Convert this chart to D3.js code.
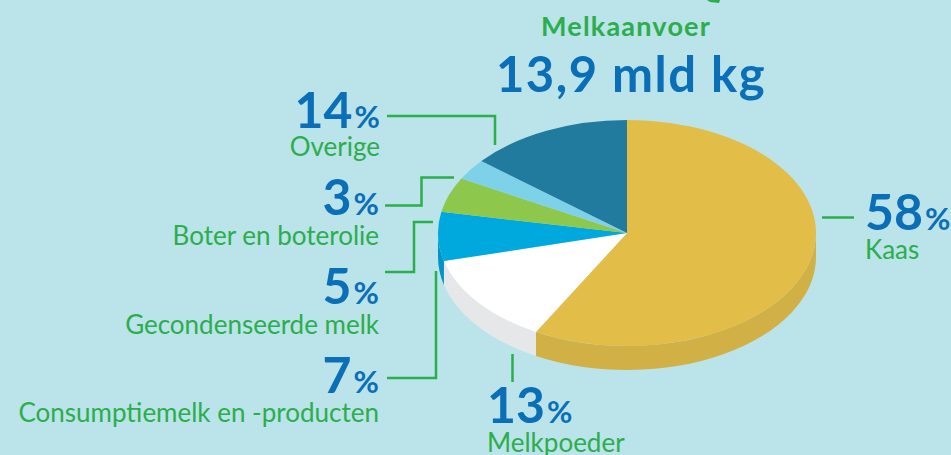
<!DOCTYPE html>
<html>
<head>
<meta charset="utf-8">
<script src="https://cdn.jsdelivr.net/npm/d3@7"></script>
<style>
  body { margin: 0; background: #bae3ea; }
  svg { display: block; }
</style>
</head>
<body>
<svg id="chart" width="951" height="455"></svg>
<script>
// data
const categories = ["Kaas", "Melkpoeder", "Consumptiemelk en -producten", "Gecondenseerde melk", "Boter en boterolie", "Overige"];
const shares = [58, 13, 7, 5, 3, 14];
const topColors = ["#e2be49", "#ffffff", "#00a9dd", "#8dc74b", "#7dd1e9", "#217b9e"];
const sideColors = ["#d1b045", "#e6e7e8", "#0095c6", "#7fb443", "#6dbfd6", "#1b6a8a"];
const title = "Melkaanvoer";
const total = "13,9 mld kg";

const green = "#2bae4b", blue = "#0a6fb7";

// label placement (annotation layout, same order as categories)
const labelLayout = [
  {x: 865, numY: 230, nameY: 259, anchor: "start", lead: [[822, 217.5], [854, 217.5]]},
  {x: 487, numY: 423, nameY: 452, anchor: "start", lead: [[512.5, 354], [512.5, 382]]},
  {x: 379, numY: 393, nameY: 422, anchor: "end", lead: [[387, 378], [436, 378], [436, 271]]},
  {x: 379, numY: 304, nameY: 334, anchor: "end", lead: [[385, 272], [414, 272], [414, 222], [433, 222]]},
  {x: 379, numY: 215, nameY: 245, anchor: "end", lead: [[385, 205.5], [421.5, 205.5], [421.5, 177.5], [454, 177.5]]},
  {x: 380, numY: 128, nameY: 156, anchor: "end", lead: [[387, 116], [495, 116], [495, 145]]}
];

const svg = d3.select("#chart");
const cx = 627, cy = 233, rx = 189, ry = 113, depth = 24;

svg.append("rect").attr("width", 951).attr("height", 455).attr("fill", "#bae3ea");

// little arrow piece at the top edge
svg.append("path").attr("d", "M707,0 L720,0 L719,3 L710,2 Z").attr("fill", green);

// titles
svg.append("text")
  .attr("x", 626).attr("y", 36)
  .attr("text-anchor", "middle")
  .attr("font-family", "Lato, sans-serif").attr("font-weight", 700).attr("font-size", 27)
  .attr("letter-spacing", 1.2)
  .attr("fill", green)
  .text(title);

svg.append("text")
  .attr("x", 631).attr("y", 92)
  .attr("text-anchor", "middle")
  .attr("font-family", "Lato, sans-serif").attr("font-weight", 700).attr("font-size", 49)
  .attr("letter-spacing", 1.5)
  .attr("fill", blue)
  .text(total);

const arcs = d3.pie().sort(null).value(d => d)(shares);

// side walls of the 3d pie (front half only)
const pt = a => [rx * Math.sin(a), -ry * Math.cos(a)];
function sidePath(a0, a1) {
  const s = Math.max(a0, Math.PI / 2), e = Math.min(a1, 3 * Math.PI / 2);
  if (s >= e) return null;
  const p0 = pt(s), p1 = pt(e), big = (e - s) > Math.PI ? 1 : 0;
  return "M" + p0 + "A" + rx + "," + ry + " 0 " + big + " 1 " + p1 +
    "L" + [p1[0], p1[1] + depth] +
    "A" + rx + "," + ry + " 0 " + big + " 0 " + [p0[0], p0[1] + depth] + "Z";
}

const pieG = svg.append("g").attr("transform", "translate(" + cx + "," + cy + ")");

pieG.selectAll(".side")
  .data(arcs.filter(d => sidePath(d.startAngle, d.endAngle)))
  .enter().append("path")
  .attr("class", "side")
  .attr("d", d => sidePath(d.startAngle, d.endAngle))
  .attr("fill", d => sideColors[d.index]);

const arc = d3.arc().innerRadius(0).outerRadius(rx);
pieG.append("g")
  .attr("transform", "scale(1," + (ry / rx) + ")")
  .selectAll(".slice")
  .data(arcs)
  .enter().append("path")
  .attr("class", "slice")
  .attr("d", arc)
  .attr("fill", d => topColors[d.index]);

// leader lines
const line = d3.line();
svg.selectAll(".lead")
  .data(labelLayout)
  .enter().append("path")
  .attr("class", "lead")
  .attr("d", d => line(d.lead))
  .attr("fill", "none")
  .attr("stroke", green)
  .attr("stroke-width", 2.5);

// labels
const lab = svg.selectAll(".label")
  .data(categories)
  .enter().append("g")
  .attr("class", "label")
  .attr("font-family", "Lato, sans-serif");

const num = lab.append("text")
  .attr("x", (d, i) => labelLayout[i].x)
  .attr("y", (d, i) => labelLayout[i].numY)
  .attr("text-anchor", (d, i) => labelLayout[i].anchor)
  .attr("fill", blue)
  .attr("font-weight", 700);
num.append("tspan").attr("font-size", 50).text((d, i) => shares[i]);
num.append("tspan").attr("font-size", 31).attr("dx", 2).text("%");

lab.append("text")
  .attr("x", (d, i) => labelLayout[i].x)
  .attr("y", (d, i) => labelLayout[i].nameY)
  .attr("text-anchor", (d, i) => labelLayout[i].anchor)
  .attr("fill", green)
  .attr("font-size", 26)
  .text(d => d);
</script>
</body>
</html>
